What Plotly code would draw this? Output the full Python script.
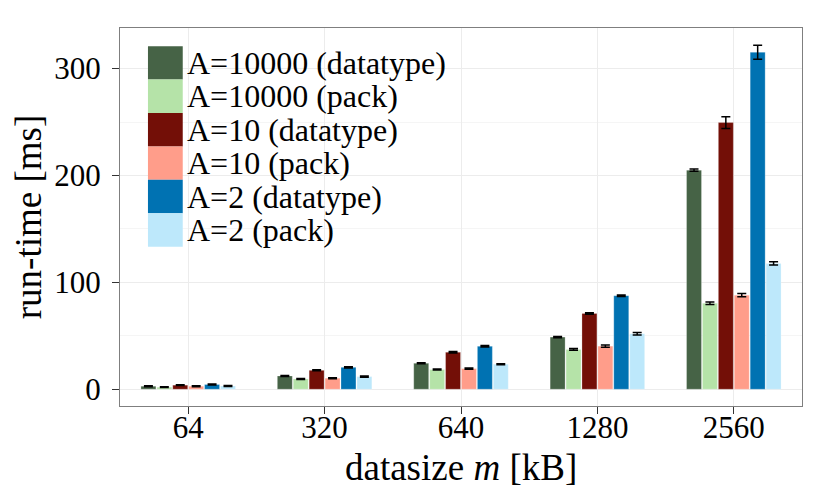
import plotly.graph_objects as go

# data
sizes = ["64", "320", "640", "1280", "2560"]
series_names = ["A=10000 (datatype)", "A=10000 (pack)", "A=10 (datatype)",
                "A=10 (pack)", "A=2 (datatype)", "A=2 (pack)"]
series_colors = ["#466346", "#b5e3a8", "#730f07", "#ff9d8a", "#0072b2", "#bde8fb"]

a10000_datatype = [2.8, 12.4, 24.3, 48.8, 205]
a10000_pack = [1.9, 9.6, 18.4, 37.2, 80.4]
a10_datatype = [3.8, 17.7, 34.6, 70.9, 249.5]
a10_pack = [2.8, 10.3, 19.3, 40.3, 88]
a2_datatype = [4.4, 20.5, 40.2, 87.5, 315.3]
a2_pack = [3.0, 11.8, 23.4, 51.9, 117.7]

a10000_datatype_err = [0.4, 0.5, 0.5, 0.6, 1.0]
a10000_pack_err = [0.4, 0.5, 0.5, 0.8, 1.2]
a10_datatype_err = [0.4, 0.5, 0.6, 0.7, 5.5]
a10_pack_err = [0.4, 0.5, 0.5, 1.0, 1.5]
a2_datatype_err = [0.4, 0.6, 0.6, 0.7, 6.5]
a2_pack_err = [0.4, 0.5, 0.5, 1.2, 1.5]

values = [a10000_datatype, a10000_pack, a10_datatype, a10_pack, a2_datatype, a2_pack]
errors = [a10000_datatype_err, a10000_pack_err, a10_datatype_err,
          a10_pack_err, a2_datatype_err, a2_pack_err]

FONT = "Liberation Serif"
FSIZE = 31

fig = go.Figure()
for name, col, vals, errs in zip(series_names, series_colors, values, errors):
    fig.add_trace(go.Bar(
        x=sizes, y=vals, name=name,
        marker=dict(color=col, line=dict(color="rgba(255,255,255,0.5)", width=0.5)),
        error_y=dict(type="data", array=errs, color="black", thickness=1.5, width=4.5),
        showlegend=False,
    ))

# legend drawn like ggplot's: big stacked swatches
row_h = 0.0884
top = 0.952
for i, (name, col) in enumerate(zip(series_names, series_colors)):
    y1 = top - i * row_h
    y0 = y1 - row_h
    fig.add_shape(type="rect", xref="paper", yref="paper",
                  x0=0.041, x1=0.092, y0=y0, y1=y1,
                  fillcolor=col, line=dict(width=0), layer="above")
    fig.add_annotation(xref="paper", yref="paper", x=0.095, y=(y0 + y1) / 2,
                       text=name, showarrow=False, xanchor="left", yanchor="middle",
                       font=dict(family=FONT, size=32, color="black"))

# x title as an annotation so it sits where the reference has it
fig.add_annotation(xref="paper", yref="paper", x=0.5, y=-0.163,
                   text="datasize <i>m</i> [kB]", showarrow=False,
                   xanchor="center", yanchor="middle",
                   font=dict(family=FONT, size=37, color="black"))

# page body has an 8px margin, so the margins are shifted to compensate
fig.update_layout(
    width=830, height=498,
    margin=dict(l=112, r=36, t=20, b=100),
    paper_bgcolor="white", plot_bgcolor="white",
    barmode="group", bargap=0.3, bargroupgap=0.06,
    font=dict(family=FONT, size=FSIZE, color="black"),
)

fig.update_xaxes(
    automargin=False,
    showgrid=True, gridcolor="#ececec", gridwidth=1,
    showline=True, linecolor="#7f7f7f", mirror=True, linewidth=1,
    ticks="outside", ticklen=7, tickcolor="#333333", ticklabelstandoff=-13,
    tickfont=dict(family=FONT, size=FSIZE, color="black"),
)
fig.update_yaxes(
    title_text="run-time [ms]", title_standoff=8, automargin=False,
    range=[-15.7, 338], tickvals=[0, 100, 200, 300],
    showgrid=True, gridcolor="#ececec", gridwidth=1, zeroline=False,
    minor=dict(tickvals=[50, 150, 250], showgrid=True, gridcolor="#f5f5f5", gridwidth=1),
    showline=True, linecolor="#7f7f7f", mirror=True, linewidth=1,
    ticks="outside", ticklen=7, tickcolor="#333333", ticklabelstandoff=5,
    tickfont=dict(family=FONT, size=FSIZE, color="black"),
)

fig.write_html("out.html")
